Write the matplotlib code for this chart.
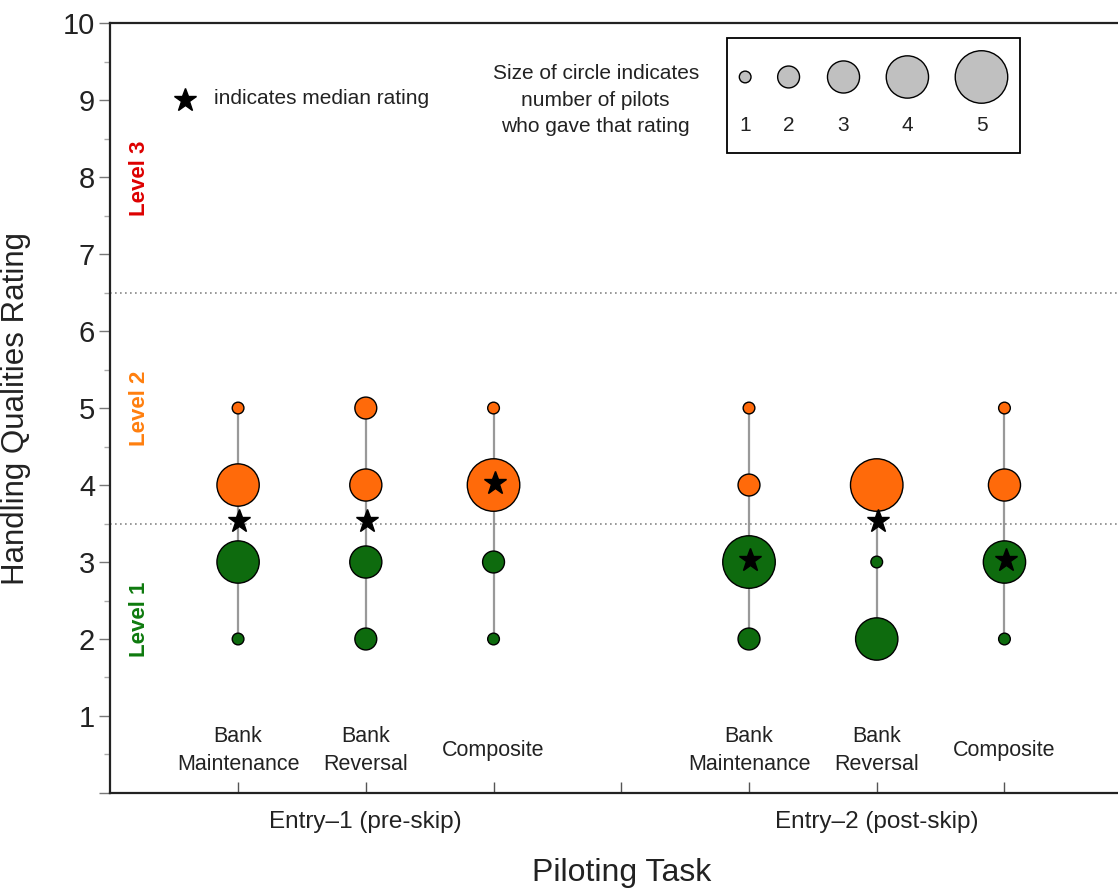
import matplotlib
matplotlib.use('Agg')
import matplotlib.pyplot as plt
import matplotlib.transforms as mtransforms
from matplotlib.patches import Rectangle
import numpy as np

plt.rcParams['font.family'] = ['Liberation Sans', 'DejaVu Sans']

# Data
task_labels = ['Bank\nMaintenance', 'Bank\nReversal', 'Composite',
               'Bank\nMaintenance', 'Bank\nReversal', 'Composite']
task_x = [1, 2, 3, 5, 6, 7]
group_labels = ['Entry\u20131 (pre-skip)', 'Entry\u20132 (post-skip)']
group_x = [2, 6]
ratings = [2, 3, 4, 5]
# number of pilots giving rating 2, 3, 4, 5 for each task
counts = [
    [1, 4, 4, 1],
    [2, 3, 3, 2],
    [1, 2, 5, 1],
    [2, 5, 2, 1],
    [4, 1, 5, 0],
    [1, 4, 3, 1],
]
medians = [3.5, 3.5, 4.0, 3.0, 3.5, 3.0]
legend_counts = [1, 2, 3, 4, 5]

orange = '#ff6a0a'
green = '#0e6b0e'
txt = '#222222'


def msize(n):
    d_px = 10.2 * np.asarray(n) + 1.5
    return (d_px * 0.72) ** 2


fig = plt.figure(figsize=(11.18, 8.88), dpi=100)
ax = fig.add_axes([0.0987, 0.107, 0.914, 0.867])
ax.set_xlim(0, 8)
ax.set_ylim(0, 10)

# reference lines
ax.axhline(6.5, color='#888888', lw=1.2, ls=(0, (1, 2)), zorder=1)
ax.axhline(3.5, color='#888888', lw=1.2, ls=(0, (1, 2)), zorder=1)

for x, c, med in zip(task_x, counts, medians):
    r = [rt for rt, n in zip(ratings, c) if n > 0]
    n = [nn for nn in c if nn > 0]
    ax.plot([x, x], [min(r), max(r)], color='#999999', lw=1.6, zorder=2)
    cols = [orange if rt >= 4 else green for rt in r]
    ax.scatter([x] * len(r), r, s=msize(n), c=cols, edgecolors='black',
               linewidths=1.0, zorder=3)
    ax.plot(x + 0.01, med + 0.03, marker='*', color='black', ms=17, zorder=4,
            ls='none')

# median legend
ax.plot(0.585, 9.0, marker='*', color='black', ms=17, ls='none')
ax.text(0.81, 9.02, 'indicates median rating', fontsize=15, va='center',
        ha='left', color=txt)

# circle size legend
ax.add_patch(Rectangle((4.83, 8.31), 2.29, 1.495, fill=False,
                       edgecolor='black', lw=1.3, zorder=2))
leg_x = [4.97, 5.31, 5.74, 6.24, 6.82]
ax.scatter(leg_x, [9.3] * 5, s=msize(legend_counts), c='#c0c0c0',
           edgecolors='black', linewidths=1.0, zorder=3)
for lx, n in zip(leg_x, legend_counts):
    ax.text(lx, 8.67, str(n), fontsize=15, ha='center', va='center',
            color=txt)
ax.text(3.8, 9.0, 'Size of circle indicates\nnumber of pilots\nwho gave that rating',
        fontsize=15, ha='center', va='center', linespacing=1.5, color=txt)

# level labels
ax.text(0.23, 7.99, 'Level 3', color='#dd0000', rotation=90, fontsize=16,
        fontweight='bold', ha='center', va='center')
ax.text(0.23, 4.99, 'Level 2', color='#ff7f0e', rotation=90, fontsize=16,
        fontweight='bold', ha='center', va='center')
ax.text(0.23, 2.25, 'Level 1', color='#0e7a0e', rotation=90, fontsize=16,
        fontweight='bold', ha='center', va='center')

# axes styling
ax.spines['right'].set_visible(False)
for s in ['left', 'bottom', 'top']:
    ax.spines[s].set_linewidth(1.6)
    ax.spines[s].set_color(txt)

ax.set_yticks(range(0, 11))
ax.set_yticklabels([''] + [str(i) for i in range(1, 11)])
ax.set_yticks(np.arange(0.5, 10, 1), minor=True)
ax.tick_params(axis='y', which='major', direction='out', length=8, width=1,
               color='#777777', labelsize=21, pad=3, labelcolor=txt)
ax.tick_params(axis='y', which='minor', direction='out', length=4, width=1,
               color='#aaaaaa')

ax.set_xticks(task_x + [4])
ax.set_xticklabels([])
ax.tick_params(axis='x', which='major', direction='in', length=8, width=1,
               color='#555555')

for x, lab in zip(task_x, task_labels):
    ax.text(x, 0.55, lab, fontsize=15.5, ha='center', va='center',
            linespacing=1.45, color=txt)

trans = mtransforms.blended_transform_factory(ax.transData, ax.transAxes)
for x, lab in zip(group_x, group_labels):
    ax.text(x, -0.038, lab, fontsize=17.5, ha='center', va='center',
            transform=trans, color=txt)
ax.text(4, -0.104, 'Piloting Task', fontsize=23, ha='center', va='center',
        transform=trans, color=txt)

ax.set_ylabel('Handling Qualities Rating', fontsize=22.5, color=txt)
ax.yaxis.set_label_coords(-0.078, 0.5)

fig.savefig('out.png', dpi=100)
